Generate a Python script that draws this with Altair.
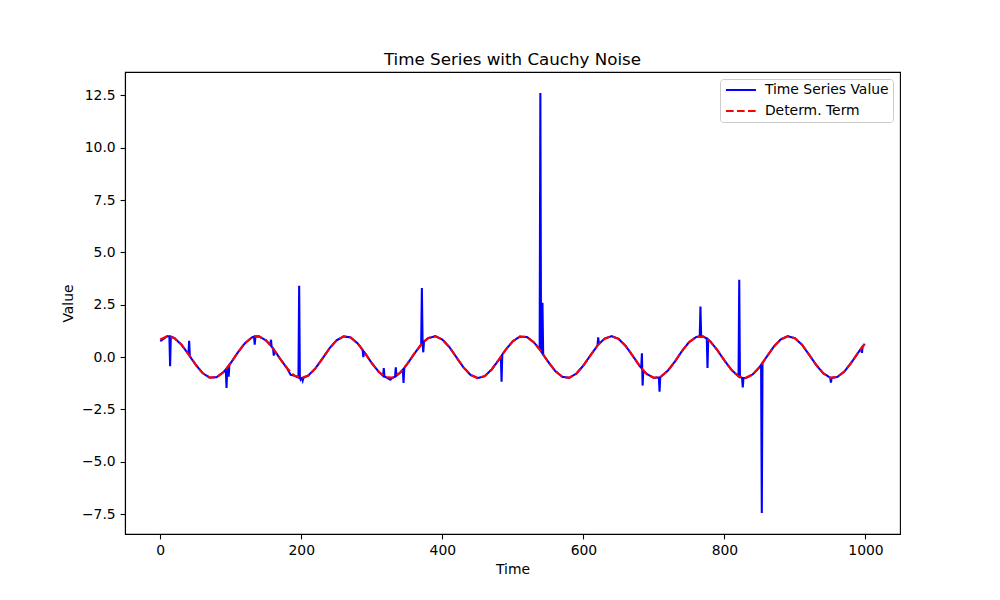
import pandas as pd
import altair as alt

# deterministic term, read every 10 time steps (last point is t=999)
grid_t = list(range(0, 1000, 10)) + [999]
determ_v = [0.84, 1.00, 0.91, 0.60, 0.14, -0.35, -0.76, -0.98, -0.96, -0.71,
            -0.28, 0.22, 0.66, 0.94, 0.99, 0.80, 0.41, -0.08, -0.54, -0.88,
            -1.00, -0.88, -0.54, -0.07, 0.42, 0.80, 0.99, 0.94, 0.65, 0.21,
            -0.29, -0.71, -0.96, -0.98, -0.75, -0.34, 0.15, 0.60, 0.91, 1.00,
            0.84, 0.48, -0.01, -0.49, -0.85, -1.00, -0.91, -0.59, -0.13, 0.36,
            0.76, 0.98, 0.96, 0.70, 0.27, -0.22, -0.66, -0.94, -0.99, -0.79,
            -0.40, 0.08, 0.55, 0.88, 1.00, 0.87, 0.53, 0.06, -0.43, -0.81,
            -0.99, -0.93, -0.64, -0.20, 0.30, 0.72, 0.96, 0.98, 0.75, 0.33,
            -0.16, -0.61, -0.92, -1.00, -0.83, -0.47, 0.02, 0.50, 0.85, 1.00,
            0.90, 0.59, 0.12, -0.37, -0.77, -0.98, -0.95, -0.69, -0.26, 0.23,
            0.63]

# noise spikes of the time series (with the points either side of them)
spike_t = [0, 13, 14, 15, 40, 41, 42, 93, 94, 95, 96, 97, 98,
           133, 134, 135, 156, 157, 158, 160, 161, 162, 185,
           196, 197, 198, 199, 201, 202, 203, 287, 288, 289,
           316, 317, 318, 326, 333, 334, 335, 344, 345, 346,
           370, 371, 372, 373, 374, 483, 484, 485,
           538, 539, 541, 542, 543, 620, 621, 622,
           682, 683, 684, 685, 707, 708, 709, 765, 766, 767,
           775, 776, 777, 820, 821, 822, 825, 826, 827,
           851, 852, 853, 854, 950, 951, 952, 994, 995, 996]
spike_v = [0.76, 0.99, -0.44, 0.98, 0.14, 0.78, 0.04, -0.59, -1.47, -0.51, -0.46, -0.93, -0.37,
           0.98, 0.60, 0.99, 0.58, 0.83, 0.50, 0.41, 0.07, 0.32, -0.85,
           -0.98, 3.41, -0.99, -1.07, -1.00, -1.12, -0.99, 0.35, 0.00, 0.25,
           -0.89, -0.53, -0.93, -1.08, -0.93, -0.49, -0.89, -0.60, -1.23, -0.52,
           0.60, 3.30, 0.68, 0.23, 0.75, 0.02, -1.17, 0.12,
           0.37, 12.62, 0.22, 2.60, 0.12, 0.55, 0.94, 0.63,
           -0.51, 0.18, -1.36, -0.64, -0.97, -1.65, -0.95, 1.00, 2.42, 1.00,
           0.89, -0.52, 0.84, -0.92, 3.70, -0.95, -0.99, -1.45, -1.00,
           -0.42, -0.37, -7.45, -0.28, -0.98, -1.22, -1.00, 0.42, 0.20, 0.51]

names = ["Time Series Value", "Determ. Term"]

ts = dict(zip(grid_t, determ_v))
ts.update(dict(zip(spike_t, spike_v)))
ts_df = pd.DataFrame({"t": list(ts.keys()), "v": list(ts.values())}).sort_values("t")
ts_df["series"] = names[0]
ts_df["order"] = range(len(ts_df))

det_df = pd.DataFrame({"t": grid_t, "v": determ_v, "series": names[1]})
det_df["order"] = range(len(det_df))

font = "DejaVu Sans"

legend = alt.Legend(
    title=None, orient="top-right", offset=7, padding=4,
    cornerRadius=3, strokeColor="#cccccc", fillColor="white",
    labelFont=font, labelFontSize=13.9, labelColor="black",
    symbolType="M-1,0L5,0", symbolSize=100, symbolStrokeWidth=2.08,
    labelOffset=27, rowPadding=6,
)

x = alt.X("t:Q", title="Time",
          scale=alt.Scale(domain=[-49.95, 1048.95], nice=False, zero=False),
          axis=alt.Axis(values=[0, 200, 400, 600, 800, 1000], format="d"))
y = alt.Y("v:Q", title="Value",
          scale=alt.Scale(domain=[-8.45, 13.62], nice=False, zero=False),
          axis=alt.Axis(values=[-7.5, -5.0, -2.5, 0.0, 2.5, 5.0, 7.5, 10.0, 12.5],
                        format=".1f"))
color = alt.Color("series:N", scale=alt.Scale(domain=names, range=["#0000ff", "#ff0000"]),
                  legend=legend)
dash = alt.StrokeDash("series:N", scale=alt.Scale(domain=names, range=[[1, 0], [7.7, 3.3]]),
                      legend=legend)

blue = alt.Chart(ts_df).mark_line(strokeWidth=2.08).encode(
    x=x, y=y, color=color, strokeDash=dash, order="order:Q")
red = alt.Chart(det_df).mark_line(strokeWidth=2.08).encode(
    x=x, y=y, color=color, strokeDash=dash, order="order:Q")

chart = alt.layer(blue, red).properties(
    title="Time Series with Cauchy Noise",
    width=775,
    height=462,
    autosize=alt.AutoSizeParams(type="none"),
    padding={"left": 117, "top": 64, "right": 92, "bottom": 58},
).configure_view(
    stroke="black", strokeWidth=1.1
).configure_axis(
    grid=False, domainColor="black", domainWidth=1.1,
    tickColor="black", tickWidth=1.1, tickSize=4.9,
    labelFont=font, labelFontSize=13.9, labelColor="black", labelPadding=4.9,
    titleFont=font, titleFontSize=13.9, titleColor="black", titleFontWeight="normal",
    labelFlush=False, labelOverlap=False,
).configure_axisX(
    titlePadding=5
).configure_axisY(
    titlePadding=6
).configure_title(
    font=font, fontSize=16.7, fontWeight="normal", color="black",
    anchor="middle", offset=3,
)

chart.save("out.html", embed_options={"renderer": "svg", "actions": False})
